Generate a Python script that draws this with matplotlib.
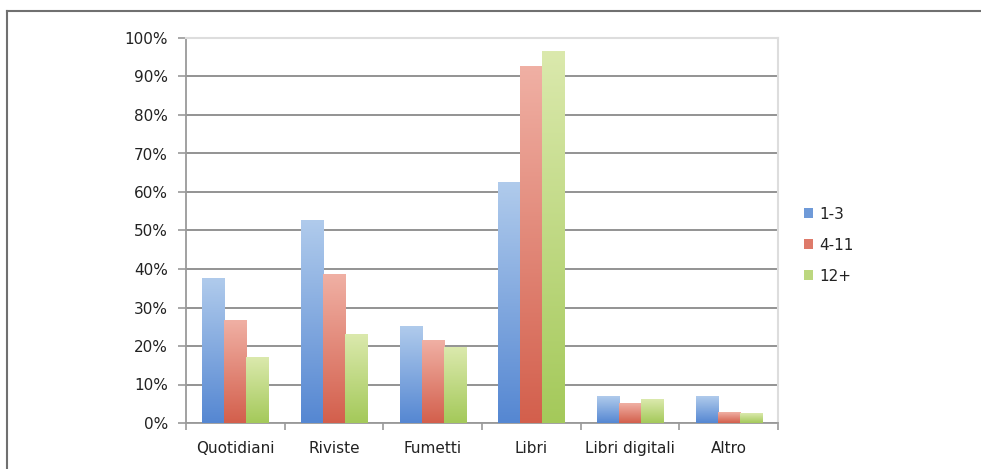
import numpy as np
import matplotlib.pyplot as plt
from matplotlib.colors import LinearSegmentedColormap
from matplotlib.patches import Patch
from matplotlib.lines import Line2D
from matplotlib.ticker import FuncFormatter

categories = ['Quotidiani', 'Riviste', 'Fumetti', 'Libri', 'Libri digitali', 'Altro']
series = ['1-3', '4-11', '12+']
v_1_3 = [37.5, 52.5, 25.0, 62.5, 7.0, 7.0]
v_4_11 = [26.5, 38.5, 21.5, 92.5, 5.0, 2.7]
v_12 = [17.0, 23.0, 19.5, 96.5, 6.0, 2.5]
values = [v_1_3, v_4_11, v_12]

# (top colour, bottom colour, legend colour)
colours = [('#b0cbec', '#5587d2', '#6f9ad8'),
           ('#f0b0a4', '#d35f4c', '#de7a6a'),
           ('#dbe9ad', '#a4c95a', '#bcd77f')]

fig = plt.figure(figsize=(9.81, 4.69), dpi=100)
ax = fig.add_axes([186/981, 1-423/469, (778-186)/981, (423-38)/469])

n = len(categories)
x = np.arange(n)
w = 0.223

for j, vals in enumerate(values):
    top, bottom, _ = colours[j]
    cm = LinearSegmentedColormap.from_list('g%d' % j, [bottom, top])
    grad = np.linspace(0, 1, 256).reshape(-1, 1)
    for i, v in enumerate(vals):
        x0 = x[i] + (j - 1) * w - w / 2
        ax.imshow(grad, extent=[x0, x0 + w, 0, v / 100], origin='lower',
                  aspect='auto', cmap=cm, zorder=3, interpolation='bilinear')

ax.set_xlim(-0.5, n - 0.5)
ax.set_ylim(0, 1.0)

ax.set_yticks(np.arange(0, 1.01, 0.1))
ax.yaxis.set_major_formatter(FuncFormatter(lambda v, p: '%d%%' % round(v * 100)))
ax.yaxis.grid(True, color='#8a8a8a', lw=1.3, zorder=1)
ax.set_axisbelow(True)

ax.set_xticks(x)
ax.set_xticklabels(categories)
ax.set_xticks(np.arange(-0.5, n, 1), minor=True)
ax.tick_params(axis='x', which='major', length=0, pad=13, labelsize=11, labelcolor='#222222')
ax.tick_params(axis='x', which='minor', length=5, color='#999999', width=1.2)
ax.tick_params(axis='y', length=6, color='#999999', width=1.2, pad=7,
               labelsize=11, labelcolor='#222222')

for s in ['left', 'bottom']:
    ax.spines[s].set_color('#9a9a9a')
    ax.spines[s].set_linewidth(1.3)
for s in ['top', 'right']:
    ax.spines[s].set_color('#dddddd')
    ax.spines[s].set_linewidth(1.5)

handles = [Patch(facecolor=c[2], edgecolor='none') for c in colours]
fig.legend(handles, series, loc='upper left', bbox_to_anchor=(796/981, 1-199/469),
           frameon=False, fontsize=11, handlelength=0.6, handleheight=0.6,
           handletextpad=0.4, labelspacing=1.05, borderpad=0, labelcolor='#222222')

# outer frame of the original screenshot
fig.add_artist(Line2D([7/981, 1], [1-11/469, 1-11/469], color='#707070', lw=1.5))
fig.add_artist(Line2D([7/981, 7/981], [0, 1-11/469], color='#707070', lw=1.5))

fig.savefig('out.png', dpi=100)
